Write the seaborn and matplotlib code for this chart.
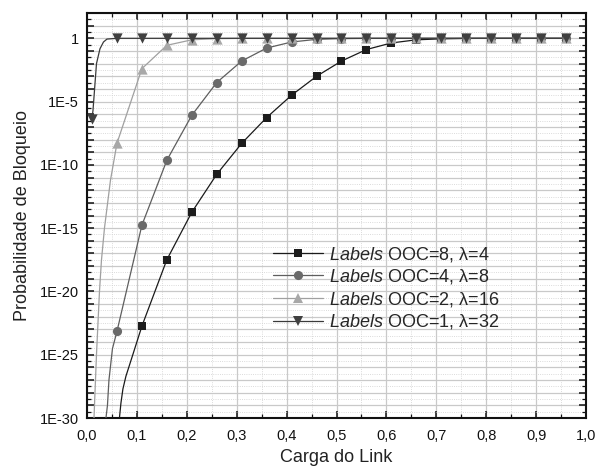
import matplotlib
matplotlib.use("Agg")
import numpy as np
import pandas as pd
import matplotlib.pyplot as plt
import seaborn as sns
from matplotlib.lines import Line2D
from matplotlib.ticker import FixedLocator, FuncFormatter, MultipleLocator

# Link load at which the blocking probability was sampled
LOAD = [0.01, 0.06, 0.11, 0.16, 0.21, 0.26, 0.31, 0.36, 0.41, 0.46,
        0.51, 0.56, 0.61, 0.66, 0.71, 0.76, 0.81, 0.86, 0.91, 0.96]

# Blocking probability per configuration (sampled points)
p_ooc8 = [1.8e-23, 3.2e-18, 1.8e-14, 1.8e-11, 5.0e-9, 5.5e-7, 3.2e-5, 1.0e-3,
          1.6e-2, 1.3e-1, 4.3e-1, 7.6e-1, 9.1e-1, 9.8e-1, 1.0, 1.0, 1.0, 1.0]
p_ooc4 = [6.9e-24, 1.7e-15, 2.3e-10, 8.3e-7, 3.2e-4, 1.6e-2, 1.7e-1, 5.1e-1,
          8.3e-1, 9.5e-1, 9.9e-1, 1.0, 1.0, 1.0, 1.0, 1.0, 1.0, 1.0, 1.0]
p_ooc2 = [5.0e-9, 4.0e-3, 2.8e-1, 7.6e-1, 9.5e-1, 1.0, 1.0, 1.0, 1.0, 1.0,
          1.0, 1.0, 1.0, 1.0, 1.0, 1.0, 1.0, 1.0, 1.0]
p_ooc1 = [4.6e-7, 1.0, 1.0, 1.0, 1.0, 1.0, 1.0, 1.0, 1.0, 1.0,
          1.0, 1.0, 1.0, 1.0, 1.0, 1.0, 1.0, 1.0, 1.0, 1.0]

# Extra points of the continuous curves (low-load region)
tail8_load = [0.062, 0.065, 0.068, 0.072, 0.078, 0.090]
tail8_p = [1e-31, 1e-30, 1.5e-29, 2e-28, 2e-27, 6e-26]
tail4_load = [0.035, 0.038, 0.041, 0.044, 0.051]
tail4_p = [1e-31, 1e-30, 1e-29, 1e-27, 3e-25]
tail2_load = [0.012, 0.014, 0.019, 0.025, 0.029, 0.035, 0.047]
tail2_p = [3e-32, 1e-30, 1e-25, 1e-20, 3e-18, 1e-15, 6e-12]
tail1_load = [0.012, 0.019, 0.026, 0.033, 0.040]
tail1_p = [2e-6, 1e-2, 1.5e-1, 5.1e-1, 8.7e-1]

series_labels = [r"$\mathit{Labels}$ OOC=8, λ=4",
                 r"$\mathit{Labels}$ OOC=4, λ=8",
                 r"$\mathit{Labels}$ OOC=2, λ=16",
                 r"$\mathit{Labels}$ OOC=1, λ=32"]

series = [
    (series_labels[0], LOAD[2:], p_ooc8, tail8_load, tail8_p),
    (series_labels[1], LOAD[1:], p_ooc4, tail4_load, tail4_p),
    (series_labels[2], LOAD[1:], p_ooc2, tail2_load, tail2_p),
    (series_labels[3], LOAD, p_ooc1, tail1_load, tail1_p),
]

line_colors = ["#1a1a1a", "#5e5e5e", "#a0a0a0", "#3a3a3a"]
marker_colors = ["#1c1c1c", "#6a6a6a", "#a8a8a8", "#404040"]
marker_shapes = ["s", "o", "^", "v"]
marker_sizes = [5.2, 6.6, 7.4, 7.4]

marker_rows, curve_rows = [], []
for name, xs, ps, tx, tp in series:
    for x, p in zip(xs, ps):
        marker_rows.append((name, x, p))
        curve_rows.append((name, x, p))
    for x, p in zip(tx, tp):
        curve_rows.append((name, x, p))
markers_df = pd.DataFrame(marker_rows, columns=["serie", "carga", "prob"])
curves_df = pd.DataFrame(curve_rows, columns=["serie", "carga", "prob"])

sns.set_theme(style="white")
plt.rcParams["font.family"] = ["Liberation Sans", "DejaVu Sans"]
plt.rcParams["mathtext.fontset"] = "custom"
plt.rcParams["mathtext.rm"] = "Liberation Sans"
plt.rcParams["mathtext.it"] = "Liberation Sans:italic"

fig = plt.figure(figsize=(5.98, 4.71), dpi=100)
ax = fig.add_axes([87 / 598, 53 / 471, 499 / 598, 405 / 471])
ax.set_yscale("log")

pal_lines = dict(zip(series_labels, line_colors))
pal_marks = dict(zip(series_labels, marker_colors))

sns.lineplot(data=curves_df, x="carga", y="prob", hue="serie",
             hue_order=series_labels, palette=pal_lines, estimator=None,
             sort=True, lw=0.9, legend=False, ax=ax, zorder=3)

for name, shape, ms in zip(series_labels, marker_shapes, marker_sizes):
    sub = markers_df[markers_df["serie"] == name]
    sns.scatterplot(data=sub, x="carga", y="prob", color=pal_marks[name],
                    marker=shape, s=ms ** 2, linewidth=0, legend=False,
                    ax=ax, zorder=4)

ax.set_xlim(0, 1.0)
ax.set_ylim(1e-30, 1e2)

ax.xaxis.set_major_locator(MultipleLocator(0.1))
ax.xaxis.set_minor_locator(MultipleLocator(0.05))
ax.xaxis.set_major_formatter(FuncFormatter(lambda v, _: f"{v:.1f}".replace(".", ",")))

decades = np.arange(-30, 3)
ax.yaxis.set_major_locator(FixedLocator(10.0 ** decades))
ax.yaxis.set_minor_locator(FixedLocator(10.0 ** (decades[:-1] + 0.5)))


def ylabel_fmt(v, _):
    k = int(round(np.log10(v)))
    if k > 0 or k % 5 != 0:
        return ""
    return "1" if k == 0 else f"1E{k}"


ax.yaxis.set_major_formatter(FuncFormatter(ylabel_fmt))
ax.yaxis.set_minor_formatter(FuncFormatter(lambda v, _: ""))

ax.grid(which="major", color="#c9c9c9", lw=0.9, ls="-", zorder=0)
ax.grid(which="minor", color="#cfcfcf", lw=0.6, ls=":", zorder=0)
ax.set_axisbelow(True)

ax.tick_params(which="both", direction="in", top=True, right=True,
               bottom=True, left=True, colors="#111111")
ax.tick_params(which="major", length=5, width=1.1, labelsize=10.5)
ax.tick_params(which="minor", length=3, width=0.9)
ax.tick_params(axis="x", which="major", pad=8)
ax.tick_params(axis="y", which="major", pad=6)

for sp in ax.spines.values():
    sp.set_visible(True)
    sp.set_color("#111111")
    sp.set_linewidth(1.5)

ax.set_xlabel("Carga do Link", fontsize=13, labelpad=4, color="#222222")
ax.set_ylabel("Probabilidade de Bloqueio", fontsize=13, labelpad=6, color="#222222")

handles = [Line2D([], [], color=lc, lw=0.9, marker=m, markersize=ms,
                  markerfacecolor=mc, markeredgecolor=mc, markeredgewidth=0)
           for lc, mc, m, ms in zip(line_colors, marker_colors, marker_shapes, marker_sizes)]
ax.legend(handles, series_labels, loc="upper left",
          bbox_to_anchor=(0.373, 0.428), frameon=False, fontsize=13,
          handlelength=2.75, handletextpad=0.35, labelspacing=0.2,
          borderpad=0, borderaxespad=0)

fig.savefig("out.png", dpi=100)
